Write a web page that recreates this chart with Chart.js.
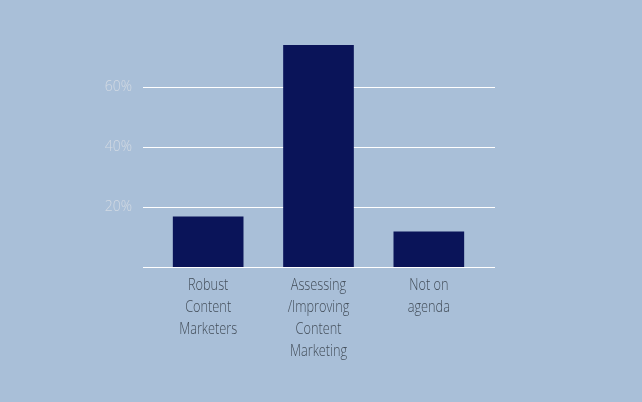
<!DOCTYPE html>
<html>
<head>
<meta charset="utf-8">
<script src="https://cdn.jsdelivr.net/npm/chart.js@4"></script>
<style>
html,body{margin:0;padding:0;background:#a9bfd8;}
#wrap{width:642px;height:402px;}
</style>
</head>
<body>
<div id="wrap"><canvas id="c" width="642" height="402"></canvas></div>
<script>
const categories = [["Robust","Content","Marketers"],["Assessing","/Improving","Content","Marketing"],["Not on","agenda"]];
const values = [16.7, 74, 11.7];
const yTicks = [0, 20, 40, 60];

const gridPlugin = {
  id: 'extGrid',
  afterLayout(chart) {
    const xs = chart.scales.x;
    if (!xs._condWrapped) {
      const orig = xs.drawLabels;
      xs.drawLabels = function(area) {
        const ctx = this.ctx;
        const origFill = ctx.fillText;
        ctx.fillText = function(text, x, y, mw) {
          this.save();
          this.scale(0.75, 1);
          origFill.call(this, text, x / 0.75, y);
          this.restore();
        };
        try { orig.call(this, area); } finally { ctx.fillText = origFill; }
      };
      xs._condWrapped = true;
    }
  },
  beforeDatasetsDraw(chart) {
    const {ctx, chartArea, scales} = chart;
    ctx.save();
    ctx.strokeStyle = '#ffffff';
    ctx.lineWidth = 1;
    yTicks.forEach(v => {
      const y = Math.round(scales.y.getPixelForValue(v)) + 0.5;
      ctx.beginPath();
      ctx.moveTo(chartArea.left - 10, y);
      ctx.lineTo(chartArea.right + 11, y);
      ctx.stroke();
    });
    ctx.restore();
  }
};

new Chart(document.getElementById('c'), {
  type: 'bar',
  data: {
    labels: categories,
    datasets: [{
      data: values,
      backgroundColor: '#0a1459',
      borderWidth: 0,
      barThickness: 70
    }]
  },
  options: {
    responsive: false,
    animation: false,
    layout: { padding: { top: 45, right: 158, left: 0, bottom: 0 } },
    plugins: { legend: { display: false }, tooltip: { enabled: false } },
    scales: {
      x: {
        grid: { display: false, drawTicks: false },
        border: { display: false },
        ticks: {
          color: '#434e5a',
          font: { family: "'Open Sans', sans-serif", size: 17, weight: 300, lineHeight: 1.3 },
          padding: 7,
          maxRotation: 0,
          autoSkip: false
        },
        afterFit(s) { s.height = 135; }
      },
      y: {
        min: 0,
        max: 74,
        grid: { display: false, drawTicks: false },
        border: { display: false },
        afterBuildTicks(s) { s.ticks = yTicks.map(v => ({ value: v })); },
        ticks: {
          color: '#d3dae3',
          font: { family: "'Open Sans', sans-serif", size: 14, weight: 300 },
          padding: 21,
          includeBounds: false,
          callback: v => v === 0 ? '' : v + '%'
        },
        afterFit(s) { s.width = 153; }
      }
    }
  },
  plugins: [gridPlugin]
});
</script>
</body>
</html>
